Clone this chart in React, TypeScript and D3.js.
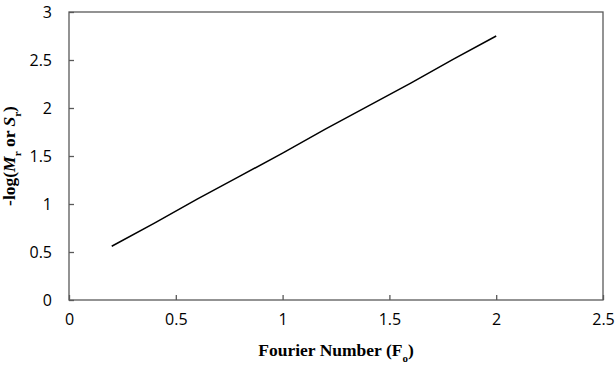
import React, { useEffect, useRef } from 'react';
import * as d3 from 'd3';

// Fourier number vs -log(Mr or Sr)
const fourier = [0.2, 0.4, 0.6, 0.8, 1.0, 1.2, 1.4, 1.6, 1.8, 2.0];
const logValues = [0.56, 0.8, 1.05, 1.29, 1.53, 1.78, 2.02, 2.26, 2.51, 2.75];
const xTicks = [0, 0.5, 1, 1.5, 2, 2.5];
const yTicks = [0, 0.5, 1, 1.5, 2, 2.5, 3];

const App = () => {
    const svgRef = useRef<SVGSVGElement | null>(null);

    useEffect(() => {
        const svg = d3.select(svgRef.current);
        const width = 615;
        const height = 365;
        const margin = { top: 12, right: 12, bottom: 65, left: 69 };
        const w = width - margin.left - margin.right;
        const h = height - margin.top - margin.bottom;

        svg.selectAll('*').remove();
        svg.attr('width', width).attr('height', height);

        const g = svg.append('g')
            .attr('transform', `translate(${margin.left},${margin.top})`);

        const x = d3.scaleLinear().domain([0, 2.5]).range([0, w]);
        const y = d3.scaleLinear().domain([0, 3]).range([h, 0]);

        const tickFont = '"Open Sans", "Liberation Sans", sans-serif';
        const titleFont = '"Liberation Serif", "Times New Roman", serif';
        const axisColor = '#595959';

        // frame
        g.append('rect')
            .attr('x', 0).attr('y', 0)
            .attr('width', w).attr('height', h)
            .attr('fill', 'none')
            .attr('stroke', axisColor)
            .attr('stroke-width', 1.3);

        // x axis, ticks inside
        const xAxis = g.append('g')
            .attr('transform', `translate(0,${h})`)
            .call(d3.axisBottom(x).tickValues(xTicks).tickSizeInner(-5).tickSizeOuter(0).tickPadding(14).tickFormat(d3.format('')));
        xAxis.select('.domain').remove();
        xAxis.selectAll('line').attr('stroke', axisColor).attr('stroke-width', 1.3);
        xAxis.selectAll('text')
            .attr('fill', '#000')
            .style('font-family', tickFont)
            .style('font-size', '16px');

        // y axis, ticks inside
        const yAxis = g.append('g')
            .call(d3.axisLeft(y).tickValues(yTicks).tickSizeInner(-5).tickSizeOuter(0).tickPadding(17).tickFormat(d3.format('')));
        yAxis.select('.domain').remove();
        yAxis.selectAll('line').attr('stroke', axisColor).attr('stroke-width', 1.3);
        yAxis.selectAll('text')
            .attr('fill', '#000')
            .style('font-family', tickFont)
            .style('font-size', '16px');

        // data line
        const line = d3.line<number>()
            .x((d, i) => x(fourier[i]))
            .y(d => y(d));
        g.append('path')
            .datum(logValues)
            .attr('d', line)
            .attr('fill', 'none')
            .attr('stroke', '#000')
            .attr('stroke-width', 1.5);

        // x title
        const xt = g.append('text')
            .attr('x', w / 2)
            .attr('y', h + 56)
            .attr('text-anchor', 'middle')
            .style('font-family', titleFont)
            .style('font-weight', 'bold')
            .style('font-size', '17.5px')
            .attr('fill', '#000');
        xt.append('tspan').text('Fourier Number (F');
        xt.append('tspan').attr('baseline-shift', 'sub').style('font-size', '11px').text('o');
        xt.append('tspan').text(')');

        // y title
        const yt = g.append('text')
            .attr('transform', `translate(${-54},${h / 2}) rotate(-90)`)
            .attr('text-anchor', 'middle')
            .style('font-family', titleFont)
            .style('font-weight', 'bold')
            .style('font-size', '17.5px')
            .attr('fill', '#000');
        yt.append('tspan').text('-log(');
        yt.append('tspan').style('font-style', 'italic').text('M');
        yt.append('tspan').attr('baseline-shift', 'sub').style('font-size', '11px').text('r');
        yt.append('tspan').text(' or ');
        yt.append('tspan').style('font-style', 'italic').text('S');
        yt.append('tspan').attr('baseline-shift', 'sub').style('font-size', '11px').text('r');
        yt.append('tspan').text(')');
    }, []);

    return (
        <div style={{ position: 'absolute', left: 0, top: 0, background: '#fff' }}>
            <svg ref={svgRef}></svg>
        </div>
    );
};

export default App;
